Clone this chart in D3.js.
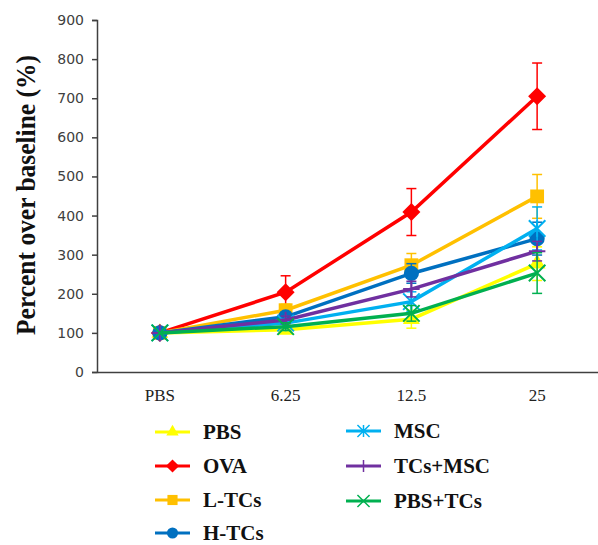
<!DOCTYPE html>
<html>
<head>
<meta charset="utf-8">
<script src="https://cdn.jsdelivr.net/npm/d3@7"></script>
<style>
  body { margin: 0; background: #fff; }
  svg { display: block; }
</style>
</head>
<body>
<div class="container"></div>
<script>
// line chart with error bars, percent over baseline

const categories = ["PBS", "6.25", "12.5", "25"];
const yTicks = [0, 100, 200, 300, 400, 500, 600, 700, 800, 900];

const seriesNames = ["PBS", "OVA", "L-TCs", "H-TCs", "MSC", "TCs+MSC", "PBS+TCs"];

const pbsValues = [100, 108, 135, 277];
const ovaValues = [100, 204, 409, 705];
const ltcsValues = [100, 158, 273, 449];
const htcsValues = [100, 141, 252, 341];
const mscValues = [100, 125, 180, 367];
const tcsMscValues = [100, 133, 212, 309];
const pbsTcsValues = [100, 116, 150, 253];

const pbsErr = [0, 8, 23, 43];
const ovaErr = [0, 42, 60, 85];
const ltcsErr = [0, 15, 30, 56];
const htcsErr = [0, 12, 25, 42];
const mscErr = [0, 10, 25, 55];
const tcsMscErr = [0, 10, 20, 25];
const pbsTcsErr = [0, 10, 20, 52];

const colors = ["#ffff00", "#ff0000", "#ffc000", "#0070c0", "#00b0f0", "#7030a0", "#00b050"];
const markers = ["triangle", "diamond", "square", "circle", "asterisk", "plus", "times"];

const allValues = [pbsValues, ovaValues, ltcsValues, htcsValues, mscValues, tcsMscValues, pbsTcsValues];
const allErr = [pbsErr, ovaErr, ltcsErr, htcsErr, mscErr, tcsMscErr, pbsTcsErr];

const series = seriesNames.map((name, i) => ({
  name: name,
  color: colors[i],
  marker: markers[i],
  points: categories.map((c, j) => ({ cat: c, value: allValues[i][j], err: allErr[i][j] }))
}));

const w = 598;
const h = 545;

const xScale = d3.scaleBand()
  .domain(categories)
  .range([97, 600]);

const yScale = d3.scaleLinear()
  .domain([0, 900])
  .range([372, 20]);

const svg = d3.select(".container")
  .append("svg")
  .attr("width", w)
  .attr("height", h);

// marker path builder
markerPath = (type, s) => {
  if (type == "triangle") return d3.symbol(d3.symbolTriangle, s * s * 0.55)();
  if (type == "square") return d3.symbol(d3.symbolSquare, s * s * 0.85)();
  if (type == "circle") return d3.symbol(d3.symbolCircle, s * s * 0.8)();
  if (type == "diamond") {
    let r = s * 0.6;
    return `M0,${-r}L${r},0L0,${r}L${-r},0Z`;
  }
  let r = s * 0.55;
  if (type == "plus") return `M0,${-r}V${r}M${-r},0H${r}`;
  if (type == "times") return `M${-r},${-r}L${r},${r}M${r},${-r}L${-r},${r}`;
  // asterisk
  return `M0,${-r}V${r}M${-r},${-r}L${r},${r}M${r},${-r}L${-r},${r}`;
};

const filled = (m) => ["triangle", "square", "circle", "diamond"].includes(m);

// y axis
const yAxis = svg.append("g")
  .attr("transform", "translate(97,0)")
  .call(d3.axisLeft(yScale).tickValues(yTicks).tickSize(5).tickPadding(8));
yAxis.select(".domain").attr("stroke", "#404040").attr("stroke-width", 1.5);
yAxis.selectAll(".tick line").attr("stroke", "#404040").attr("stroke-width", 1.5);
yAxis.selectAll(".tick text")
  .attr("font-family", "DejaVu Sans")
  .attr("font-size", "14px")
  .attr("fill", "#404040");

// x axis
const xAxis = svg.append("g")
  .attr("transform", "translate(0,372)")
  .call(d3.axisBottom(xScale).tickSize(0).tickPadding(17));
xAxis.select(".domain").attr("stroke", "#404040").attr("stroke-width", 1.5);
xAxis.selectAll(".tick text")
  .attr("font-family", "Liberation Serif")
  .attr("font-size", "17px")
  .attr("fill", "#222");

// y label
svg.append("text")
  .attr("transform", "translate(35,195) rotate(-90)")
  .attr("text-anchor", "middle")
  .attr("font-family", "Liberation Serif")
  .attr("font-weight", "bold")
  .attr("font-size", "27px")
  .attr("textLength", 280)
  .attr("lengthAdjust", "spacingAndGlyphs")
  .attr("fill", "#111")
  .text("Percent over baseline (%)");

const cx = (d) => xScale(d.cat) + xScale.bandwidth() / 2;

const line = d3.line()
  .x(cx)
  .y((d) => yScale(d.value));

const groups = svg.selectAll(".series")
  .data(series)
  .join("g")
  .attr("class", "series");

// error bars
groups.each(function (s) {
  const g = d3.select(this);
  const bars = g.selectAll(".err")
    .data(s.points.filter((d) => d.err > 0))
    .join("g")
    .attr("class", "err")
    .attr("stroke", s.color)
    .attr("stroke-width", 1.5);
  bars.append("line")
    .attr("x1", cx).attr("x2", cx)
    .attr("y1", (d) => yScale(d.value - d.err))
    .attr("y2", (d) => yScale(d.value + d.err));
  bars.append("line")
    .attr("x1", (d) => cx(d) - 5).attr("x2", (d) => cx(d) + 5)
    .attr("y1", (d) => yScale(d.value + d.err))
    .attr("y2", (d) => yScale(d.value + d.err));
  bars.append("line")
    .attr("x1", (d) => cx(d) - 5).attr("x2", (d) => cx(d) + 5)
    .attr("y1", (d) => yScale(d.value - d.err))
    .attr("y2", (d) => yScale(d.value - d.err));
});

groups.append("path")
  .attr("d", (s) => line(s.points))
  .attr("fill", "none")
  .attr("stroke", (s) => s.color)
  .attr("stroke-width", 3.5);

groups.each(function (s) {
  d3.select(this).selectAll(".mk")
    .data(s.points)
    .join("path")
    .attr("class", "mk")
    .attr("transform", (d) => `translate(${cx(d)},${yScale(d.value)})`)
    .attr("d", markerPath(s.marker, 15))
    .attr("fill", filled(s.marker) ? s.color : "none")
    .attr("stroke", s.color)
    .attr("stroke-width", filled(s.marker) ? 0 : 2);
});

// legend
const legendPos = [
  [155, 432], [155, 466], [155, 500], [155, 533],
  [346, 431], [346, 466], [346, 501]
];

const legend = svg.selectAll(".legend")
  .data(series)
  .join("g")
  .attr("class", "legend")
  .attr("transform", (s, i) => `translate(${legendPos[i][0]},${legendPos[i][1]})`);

legend.append("line")
  .attr("x1", 0).attr("x2", 35)
  .attr("stroke", (s) => s.color)
  .attr("stroke-width", 3);

legend.append("path")
  .attr("transform", "translate(17.5,0)")
  .attr("d", (s) => markerPath(s.marker, 11))
  .attr("fill", (s) => filled(s.marker) ? s.color : "none")
  .attr("stroke", (s) => s.color)
  .attr("stroke-width", (s) => filled(s.marker) ? 0 : 1.5);

legend.append("text")
  .attr("x", 48)
  .attr("y", 7)
  .attr("font-family", "Liberation Serif")
  .attr("font-weight", "bold")
  .attr("font-size", "21px")
  .attr("fill", "#111")
  .text((s) => s.name);
</script>
</body>
</html>
